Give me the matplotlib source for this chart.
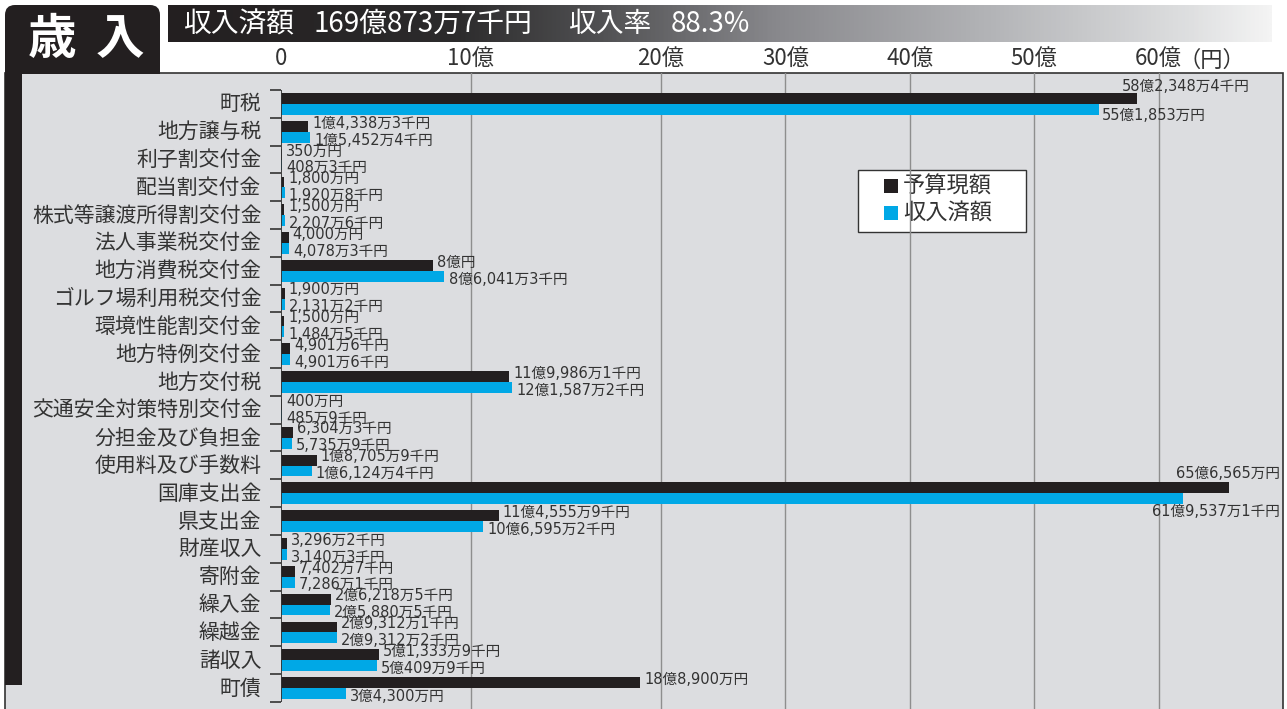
import numpy as np
import matplotlib
matplotlib.use('Agg')
import matplotlib.pyplot as plt
from matplotlib.patches import Rectangle, FancyBboxPatch
from matplotlib.colors import LinearSegmentedColormap
import matplotlib.transforms as mtransforms

plt.rcParams['font.family'] = ['Noto Sans CJK JP', 'DejaVu Sans']

# ---------------- data ----------------
categories = ["町税", "地方譲与税", "利子割交付金", "配当割交付金", "株式等譲渡所得割交付金",
              "法人事業税交付金", "地方消費税交付金", "ゴルフ場利用税交付金", "環境性能割交付金",
              "地方特例交付金", "地方交付税", "交通安全対策特別交付金", "分担金及び負担金",
              "使用料及び手数料", "国庫支出金", "県支出金", "財産収入", "寄附金", "繰入金",
              "繰越金", "諸収入", "町債"]

# values in 億円
budget = [58.23484, 1.43383, 0.035, 0.18, 0.15, 0.40, 8.0, 0.19, 0.15, 0.49016,
          11.99861, 0.04, 0.63043, 1.87059, 65.6565, 11.45559, 0.32962, 0.74027,
          2.62185, 2.93121, 5.13339, 18.89]
received = [55.1853, 1.54524, 0.04083, 0.19208, 0.22076, 0.40783, 8.60413, 0.21312,
            0.14845, 0.49016, 12.15872, 0.04859, 0.57359, 1.61244, 61.95371, 10.65952,
            0.31403, 0.72861, 2.58805, 2.93122, 5.04099, 3.43]

budget_labels = ["58億2,348万4千円", "1億4,338万3千円", "350万円", "1,800万円", "1,500万円",
                 "4,000万円", "8億円", "1,900万円", "1,500万円", "4,901万6千円",
                 "11億9,986万1千円", "400万円", "6,304万3千円", "1億8,705万9千円",
                 "65億6,565万円", "11億4,555万9千円", "3,296万2千円", "7,402万7千円",
                 "2億6,218万5千円", "2億9,312万1千円", "5億1,333万9千円", "18億8,900万円"]
received_labels = ["55億1,853万円", "1億5,452万4千円", "408万3千円", "1,920万8千円",
                   "2,207万6千円", "4,078万3千円", "8億6,041万3千円", "2,131万2千円",
                   "1,484万5千円", "4,901万6千円", "12億1,587万2千円", "485万9千円",
                   "5,735万9千円", "1億6,124万4千円", "61億9,537万1千円", "10億6,595万2千円",
                   "3,140万3千円", "7,286万1千円", "2億5,880万5千円", "2億9,312万2千円",
                   "5億409万9千円", "3億4,300万円"]

xticks = [0, 10, 20, 30, 40, 50, 60]
xtick_labels = ["0", "10億", "20億", "30億", "40億", "50億", "60億"]
series_names = ["予算現額", "収入済額"]
title_parts = ["収入済額", "169億873万7千円", "収入率", "88.3%"]

# ---------------- style ----------------
BLACK = '#231f20'
BLUE = '#00a8e6'
GRAY_BG = '#dcdde0'
TXT = '#333333'
VAL_FONT = ['DejaVu Sans', 'Noto Sans CJK JP']

W, H = 1287, 709
fig = plt.figure(figsize=(W / 100, H / 100), dpi=100)
fig.patch.set_facecolor('white')

# background decoration axes in pixel coords
bg = fig.add_axes([0, 0, 1, 1], zorder=0)
bg.set_xlim(0, W)
bg.set_ylim(H, 0)
bg.axis('off')

# gray panel
bg.add_patch(Rectangle((5, 73), 1278, 650, facecolor=GRAY_BG, edgecolor='#333333', lw=1.2))
# left dark strip
bg.add_patch(Rectangle((5, 60), 17, 625, facecolor=BLACK, edgecolor='none'))
# title box
bg.add_patch(FancyBboxPatch((5, 5), 155, 68, boxstyle="round,pad=0,rounding_size=10",
                            facecolor=BLACK, edgecolor='none'))
bg.add_patch(Rectangle((5, 45), 155, 29, facecolor=BLACK, edgecolor='none'))
bg.text(52, 40, "歳", color='white', fontsize=35, fontweight='bold', ha='center', va='center')
bg.text(120, 40, "入", color='white', fontsize=35, fontweight='bold', ha='center', va='center')

# gradient header bar
grad_pos = [0.0, 0.26, 0.39, 0.55, 0.75, 0.93, 1.0]
grad_col = ['#231f20', '#2c2b2c', '#505052', '#88888c', '#b4b5b8', '#dfe0e1', '#f4f4f4']
cmap = LinearSegmentedColormap.from_list('g', list(zip(grad_pos, grad_col)))
bg.imshow(np.linspace(0, 1, 512)[None, :], cmap=cmap, aspect='auto',
          extent=[168, 1272, 42, 5], zorder=1)
for part, xp in zip(title_parts, [183, 313, 568, 671]):
    bg.text(xp, 24, part, color='white', fontsize=20, ha='left', va='center', zorder=2)

# ---------------- main axes ----------------
ax_left, ax_right, ax_top, ax_bottom = 281, 1283, 73, 709
ax = fig.add_axes([ax_left / W, 1 - ax_bottom / H, (ax_right - ax_left) / W,
                   (ax_bottom - ax_top) / H], zorder=1)
ax.patch.set_alpha(0)

k = 0.655

def fwd(x):
    x = np.asarray(x, dtype=float)
    return np.where(x <= 20, x, 20 + (x - 20) * k)

def inv(y):
    y = np.asarray(y, dtype=float)
    return np.where(y <= 20, y, 20 + (y - 20) / k)

ax.set_xscale('function', functions=(fwd, inv))
ax.set_xlim(0, 70)
n = len(categories)
ax.set_ylim(n + 0.26, -0.61)

idx = np.arange(n)
bh = 0.39
ax.barh(idx + 0.31, budget, height=bh, color=BLACK, zorder=3)
ax.barh(idx + 0.70, received, height=bh, color=BLUE, zorder=3)

# grid
for xv in xticks[1:]:
    ax.axvline(xv, color='#8e8e8e', lw=1.0, zorder=1)
ax.vlines(0, 0, n, color='#333333', lw=1.3, zorder=4)

for s in ax.spines.values():
    s.set_visible(False)

ax.xaxis.set_ticks_position('top')
ax.set_xticks(xticks)
ax.set_xticklabels(xtick_labels, fontsize=16, color=TXT)
ax.tick_params(axis='x', length=0, pad=2)
bg.text(1179, 60, "（円）", fontsize=16, color=TXT, ha='left', va='center')

ax.set_yticks(idx + 0.43)
ax.set_yticklabels(categories, fontsize=15, color=TXT)
ax.set_yticks(np.arange(n + 1), minor=True)
ax.tick_params(axis='y', which='major', length=0, pad=14)
ax.tick_params(axis='y', which='minor', length=8, width=1.2, color='#333333', direction='out')

# value labels
trans_ax = mtransforms.blended_transform_factory(ax.transAxes, ax.transData)
fs = 10.5
for i in range(n):
    b, r = budget[i], received[i]
    if b > 50:
        if i == 0:
            ax.text(0.967, i - 0.14, budget_labels[i], transform=trans_ax, ha='right',
                    va='center', fontsize=fs, color=TXT, zorder=5, family=VAL_FONT)
            ax.annotate(received_labels[i], xy=(r, i + 0.92), xytext=(2, 0),
                        textcoords='offset points', ha='left', va='center',
                        fontsize=fs, color=TXT, zorder=5, family=VAL_FONT)
        else:
            ax.text(0.997, i - 0.22, budget_labels[i], transform=trans_ax, ha='right',
                    va='center', fontsize=fs, color=TXT, zorder=5, family=VAL_FONT)
            ax.text(0.997, i + 1.15, received_labels[i], transform=trans_ax, ha='right',
                    va='center', fontsize=fs, color=TXT, zorder=5, family=VAL_FONT)
        continue
    ax.annotate(budget_labels[i], xy=(b, i + 0.19), xytext=(3, 0),
                textcoords='offset points', ha='left', va='center',
                fontsize=fs, color=TXT, zorder=5, family=VAL_FONT)
    ax.annotate(received_labels[i], xy=(r, i + 0.80), xytext=(3, 0),
                textcoords='offset points', ha='left', va='center',
                fontsize=fs, color=TXT, zorder=5, family=VAL_FONT)

# legend (drawn as a framed key)
bg.add_patch(Rectangle((858, 170), 168, 62, facecolor='white', edgecolor='#333333',
                       lw=1.0, zorder=6))
for j, (name, col) in enumerate(zip(series_names, [BLACK, BLUE])):
    yc = 186 + j * 27
    bg.add_patch(Rectangle((884, yc - 7), 14, 14, facecolor=col, edgecolor='none', zorder=7))
    bg.text(903, yc, name, fontsize=16, color=TXT, ha='left', va='center', zorder=7)

fig.savefig('out.png', dpi=100)
